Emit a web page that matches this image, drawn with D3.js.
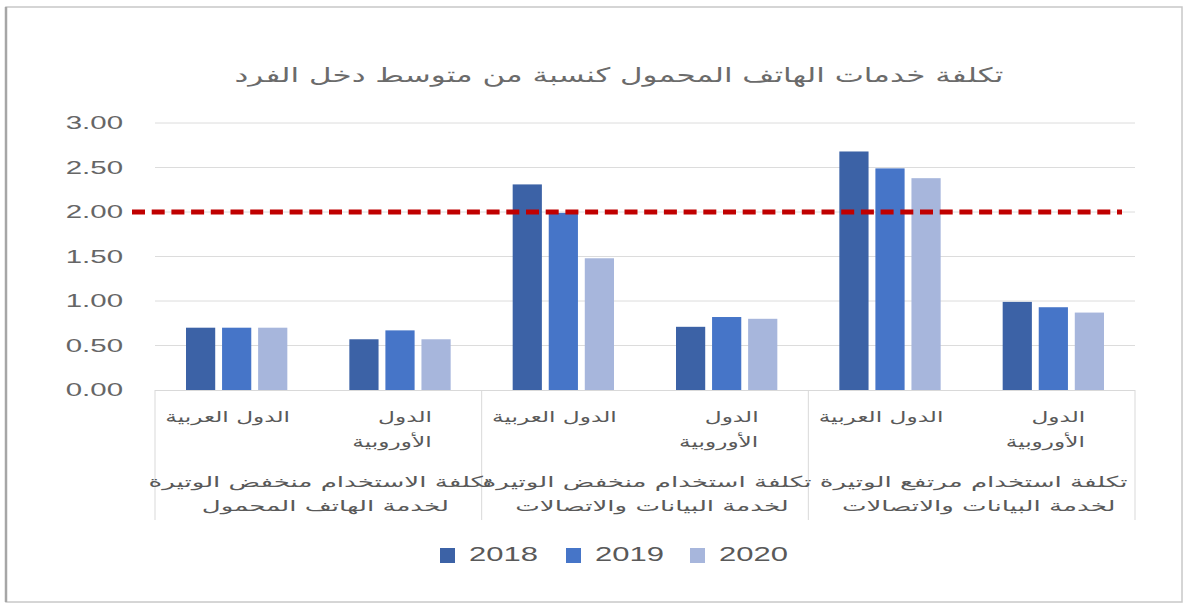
<!DOCTYPE html>
<html lang="ar">
<head>
<meta charset="utf-8">
<script src="https://cdn.jsdelivr.net/npm/d3@7"></script>
<style>
  html, body { margin: 0; padding: 0; background: #fff; }
  svg { display: block; }
</style>
</head>
<body>
<svg id="chart" width="1185" height="605"></svg>
<script>
// Cost of mobile services as a share of average individual income
const title = "تكلفة خدمات الهاتف المحمول كنسبة من متوسط دخل الفرد";
const years = ["2018", "2019", "2020"];
const regions = ["الدول العربية", "الدول الأوروبية"];
const regionLines = [["الدول العربية"], ["الدول", "الأوروبية"]];
const services = [
  ["تكلفة الاستخدام منخفض الوتيرة", "لخدمة الهاتف المحمول"],
  ["تكلفة استخدام منخفض الوتيرة", "لخدمة البيانات والاتصالات"],
  ["تكلفة استخدام مرتفع الوتيرة", "لخدمة البيانات والاتصالات"]
];
// one entry per service × region, one array per year
const values2018 = [0.70, 0.57, 2.31, 0.71, 2.68, 0.99];
const values2019 = [0.70, 0.67, 1.99, 0.82, 2.49, 0.93];
const values2020 = [0.70, 0.57, 1.48, 0.80, 2.38, 0.87];
const yTicks = [0, 0.5, 1, 1.5, 2, 2.5, 3];
const threshold = 2.0;

const series = [values2018, values2019, values2020];
const colors = ["#3c62a6", "#4675c8", "#a7b6dc"];
const textColor = "#595959";
const arabicFont = "'DejaVu Sans', 'Noto Sans', sans-serif";
const numFont = "'Liberation Sans', Arial, sans-serif";
const SX = 1.55; // horizontal text stretch

const svg = d3.select("#chart");
const plot = { left: 155, right: 1135, top: 123, bottom: 390 };

// outer frame
svg.append("rect").attr("x", 6).attr("y", 7).attr("width", 1176).attr("height", 595)
  .attr("fill", "#fff").attr("stroke", "#c8c8c8").attr("stroke-width", 1.5);
svg.append("line").attr("x1", 6).attr("x2", 6).attr("y1", 7).attr("y2", 602)
  .attr("stroke", "#a6a6a6").attr("stroke-width", 2.5);

// stretched text helper
function stext(g, x, y, str, opts) {
  const sx = opts.sx || SX;
  const t = g.append("g").attr("transform", `translate(${x},${y}) scale(${sx},1)`)
    .append("text")
    .attr("x", 0).attr("y", 0)
    .attr("font-family", opts.font)
    .attr("font-size", opts.size)
    .attr("fill", opts.color || textColor)
    .attr("text-anchor", opts.anchor || "middle")
    .attr("dominant-baseline", "middle")
    .text(str);
  if (opts.rtl) t.attr("direction", "rtl").attr("unicode-bidi", "embed");
  return t;
}

// scales
const cats = d3.range(series[0].length);
const x = d3.scaleBand().domain(cats).range([plot.left, plot.right]).padding(0);
const xi = d3.scaleBand().domain(years).range([0, x.bandwidth()])
  .paddingInner(0.19).paddingOuter(0.86);
const y = d3.scaleLinear().domain([0, 3]).range([plot.bottom, plot.top]);

// title
stext(svg, 619, 76, title, { font: arabicFont, size: 20, color: "#6b6b6b", rtl: true });

// gridlines
svg.append("g").selectAll("line").data(yTicks.filter(d => d > 0)).join("line")
  .attr("x1", plot.left).attr("x2", plot.right)
  .attr("y1", d => y(d)).attr("y2", d => y(d))
  .attr("stroke", "#dcdcdc").attr("stroke-width", 1);

// y tick labels
const yl = svg.append("g");
yTicks.forEach(d => {
  stext(yl, 123, y(d) + 1, d3.format(".2f")(d), { font: numFont, size: 19, anchor: "end", color: "#666" });
});

// bars
const gBars = svg.append("g");
series.forEach((vals, si) => {
  gBars.append("g").selectAll("rect").data(vals).join("rect")
    .attr("x", (d, i) => x(i) + xi(years[si]))
    .attr("width", xi.bandwidth())
    .attr("y", d => y(d))
    .attr("height", d => y(0) - y(d))
    .attr("fill", colors[si]);
});

// baseline and category boxes
svg.append("line").attr("x1", plot.left).attr("x2", plot.right)
  .attr("y1", y(0) + 0.5).attr("y2", y(0) + 0.5).attr("stroke", "#d9d9d9");
const groupW = 2 * x.bandwidth();
const groupEdges = d3.range(services.length + 1).map(k => plot.left + k * groupW);
svg.append("g").selectAll("line").data(groupEdges).join("line")
  .attr("x1", d => d).attr("x2", d => d)
  .attr("y1", y(0)).attr("y2", 520)
  .attr("stroke", "#d9d9d9").attr("stroke-width", 1);

// inner category labels (region)
const gl = svg.append("g");
const lineShift = { "الدول": 5, "الأوروبية": -8, "الدول العربية": -9 };
cats.forEach(i => {
  const lines = regionLines[i % 2];
  lines.forEach((ln, k) => {
    stext(gl, x(i) + x.bandwidth() / 2 + lineShift[ln], 418 + k * 25, ln,
      { font: arabicFont, size: 15, rtl: true });
  });
});

// outer category labels (service)
services.forEach((lines, s) => {
  const cx = groupEdges[s] + groupW / 2;
  lines.forEach((ln, k) => {
    stext(gl, cx + 2 + k * 5, 483 + k * 24, ln, { font: arabicFont, size: 15, sx: 1.74, rtl: true });
  });
});

// threshold line
svg.append("line")
  .attr("x1", plot.left - 23).attr("x2", plot.right - 13)
  .attr("y1", y(threshold)).attr("y2", y(threshold))
  .attr("stroke", "#c00000").attr("stroke-width", 5)
  .attr("stroke-dasharray", "13 6.7");

// legend
const legend = svg.append("g");
const legendX = [440, 566, 690];
years.forEach((yr, i) => {
  legend.append("rect").attr("x", legendX[i]).attr("y", 548).attr("width", 15).attr("height", 15)
    .attr("fill", colors[i]);
  stext(legend, legendX[i] + 29, 556, yr, { font: numFont, size: 20, anchor: "start" });
});
</script>
</body>
</html>
